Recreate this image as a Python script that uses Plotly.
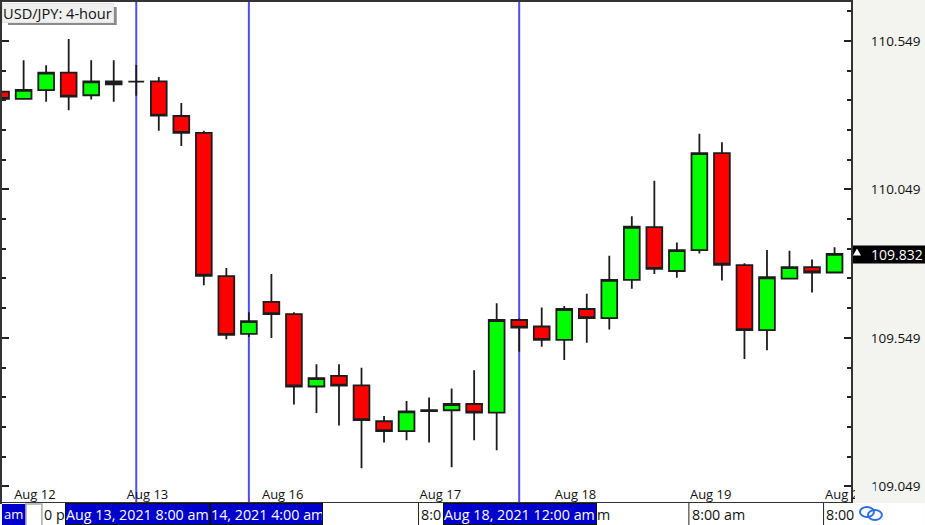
import plotly.graph_objects as go

# ---------- data ----------
candle_index = list(range(38))
open_prices = [110.378, 110.354, 110.383, 110.442, 110.366, 110.413, 110.412, 110.413, 110.296, 110.239,
               109.757, 109.562, 109.670, 109.629, 109.385, 109.421, 109.389, 109.268, 109.235, 109.302,
               109.305, 109.326, 109.297, 109.609, 109.587, 109.542, 109.646, 109.615, 109.744, 109.922,
               109.774, 109.844, 110.171, 109.794, 109.575, 109.748, 109.787, 109.769]
high_prices = [110.378, 110.484, 110.467, 110.555, 110.484, 110.484, 110.468, 110.427, 110.340, 110.246,
               109.784, 109.635, 109.764, 109.635, 109.460, 109.460, 109.448, 109.286, 109.336, 109.348,
               109.378, 109.440, 109.665, 109.614, 109.651, 109.656, 109.697, 109.825, 109.958, 110.078,
               109.870, 110.236, 110.208, 109.800, 109.845, 109.842, 109.813, 109.854]
low_prices = [110.350, 110.354, 110.344, 110.315, 110.352, 110.344, 110.364, 110.246, 110.195, 109.726,
              109.544, 109.552, 109.548, 109.324, 109.296, 109.254, 109.110, 109.196, 109.204, 109.196,
              109.113, 109.204, 109.170, 109.502, 109.519, 109.474, 109.532, 109.577, 109.714, 109.764,
              109.751, 109.833, 109.742, 109.478, 109.507, 109.748, 109.702, 109.769]
close_prices = [110.354, 110.384, 110.442, 110.361, 110.413, 110.403, 110.412, 110.297, 110.239, 109.758,
                109.559, 109.605, 109.629, 109.385, 109.413, 109.388, 109.272, 109.235, 109.301, 109.305,
                109.326, 109.297, 109.609, 109.583, 109.542, 109.646, 109.615, 109.744, 109.923, 109.781,
                109.844, 110.171, 109.795, 109.575, 109.753, 109.787, 109.769, 109.832]
marker_candles = [6, 11, 23]
day_positions = [1.5, 6.5, 12.5, 19.5, 25.5, 31.5, 37.5]
day_labels = ["Aug 12", "Aug 13", "Aug 16", "Aug 17", "Aug 18", "Aug 19", "Aug 20"]
price_ticks = [109.049, 109.549, 110.049, 110.549]
last_price = "109.832"
title_text = "USD/JPY: 4-hour"

W, H = 925, 525
L, R, T, B = 0, 851, 1, 502
FONT = "Open Sans"


def px(x):
    return (x - L) / (R - L)


def py(y):
    return (B - y) / (B - T)


def rect(x0, y0, x1, y1, fill, line=None, lw=0, layer="above"):
    return dict(type="rect", xref="paper", yref="paper", x0=px(x0), x1=px(x1), y0=py(y0), y1=py(y1),
                fillcolor=fill, line=dict(color=line or fill, width=lw), layer=layer)


fig = go.Figure(go.Candlestick(
    x=candle_index, open=open_prices, high=high_prices, low=low_prices, close=close_prices,
    increasing=dict(fillcolor="#00ff00", line=dict(color="#1c1c1c", width=1.8)),
    decreasing=dict(fillcolor="#ff0000", line=dict(color="#1c1c1c", width=1.8)),
    whiskerwidth=0, hoverinfo="skip", showlegend=False,
))

shapes = []
for c in marker_candles:
    shapes.append(dict(type="line", xref="x", yref="paper", x0=c, x1=c, y0=0, y1=1,
                       line=dict(color="#4f4ff0", width=2), layer="below"))

STRIP_TOP = 503
BLUE = "#0000cc"
shapes += [
    rect(0, STRIP_TOP, W, H, "#ffffff"),                 # bottom strip
    rect(855, 484, 875, 502, "#f3f3f0"),                 # clip of last day label
    rect(0, 504, 24, 526, BLUE),
    rect(24, 504, 40, 526, "#ffffff", "#a8a8a8", 1.5),
    rect(417, 503, 418, 526, "#222222"),
    rect(688, 503, 689, 526, "#222222"),
    rect(823, 503, 824, 526, "#222222"),
    rect(R + 2, 245, W + 2, 263, "#000000"),             # last price box
    rect(6, 6, 115, 24, "#8a8a8a"),                      # title shadow
    dict(type="path", xref="paper", yref="paper", fillcolor="#ffffff", line=dict(width=0), layer="above",
         path=f"M {px(857)} {py(248)} L {px(861)} {py(255)} L {px(853)} {py(255)} Z"),
    dict(type="circle", xref="paper", yref="paper", x0=px(860), x1=px(874), y0=py(517), y1=py(507),
         line=dict(color="#2a6fe0", width=2), layer="above"),
    dict(type="circle", xref="paper", yref="paper", x0=px(868), x1=px(882), y0=py(520), y1=py(510),
         line=dict(color="#2a6fe0", width=2), layer="above"),
]


def note(text, x, y, color="#111111", anchor="left", size=14.3, **kw):
    return dict(text=text, xref="paper", yref="paper", x=px(x), y=py(y), xanchor=anchor, yanchor="middle",
                showarrow=False, font=dict(family=FONT, size=size, color=color), **kw)


annotations = [
    note("0 p", 40, 515),
    note("8:0", 418, 515),
    note("m", 594, 515),
    note("8:00 am", 690, 515),
    note("8:00", 824, 515),
    note("am", 23, 514, color="#ffffff", anchor="right", size=13),
    note("Aug 13, 2021 8:00 am", 63, 514, color="#ffffff", bgcolor=BLUE, bordercolor="#111111", borderwidth=1,
         width=143, height=20, align="left", borderpad=0),
    note("14, 2021 4:00 am", 208, 514, color="#ffffff", bgcolor=BLUE, bordercolor="#111111", borderwidth=1,
         width=111, height=20, align="left", borderpad=0),
    note("Aug 18, 2021 12:00 am", 442, 514, color="#ffffff", bgcolor=BLUE, bordercolor="#111111", borderwidth=1,
         width=152, height=20, align="left", borderpad=0),
    note(title_text, 0, 12, size=14.6, bgcolor="#f0f0f0", bordercolor="#e4e4e4", borderwidth=1, width=110, height=18,
         align="left", borderpad=0),
    note(last_price, 897, 254, color="#ffffff", anchor="center", size=14),
]

fig.update_layout(
    width=W, height=H, margin=dict(l=L, r=W - R, t=T, b=H - B, pad=0),
    paper_bgcolor="#f3f3f0", plot_bgcolor="#ffffff",
    boxgap=0, showlegend=False, shapes=shapes, annotations=annotations,
    font=dict(family=FONT, size=14, color="#111111"),
    xaxis=dict(range=[0.04, 37.73], rangeslider=dict(visible=False), showgrid=False, zeroline=False,
               tickmode="array", tickvals=day_positions, ticktext=day_labels, ticks="",
               ticklabelposition="inside", ticklabeloverflow="allow",
               tickfont=dict(family=FONT, size=13, color="#111111"),
               showline=True, linecolor="#333333", linewidth=2, mirror=True),
    yaxis=dict(range=[108.996, 110.680], side="right", showgrid=False, zeroline=False,
               tickmode="array", tickvals=price_ticks, ticks="inside", ticklen=7, tickwidth=1.5,
               tickcolor="#222222", tickformat=".3f", ticklabelstandoff=15,
               minor=dict(dtick=0.1, tick0=109.049, ticks="inside", ticklen=4, tickwidth=1.5,
                          tickcolor="#222222", showgrid=False),
               tickfont=dict(family=FONT, size=13.5, color="#111111"),
               showline=True, linecolor="#333333", linewidth=2, mirror="ticks"),
)

fig.write_html("out.html", config={"displayModeBar": False},
               post_script="document.body.style.margin='0';document.body.style.overflow='hidden';")
